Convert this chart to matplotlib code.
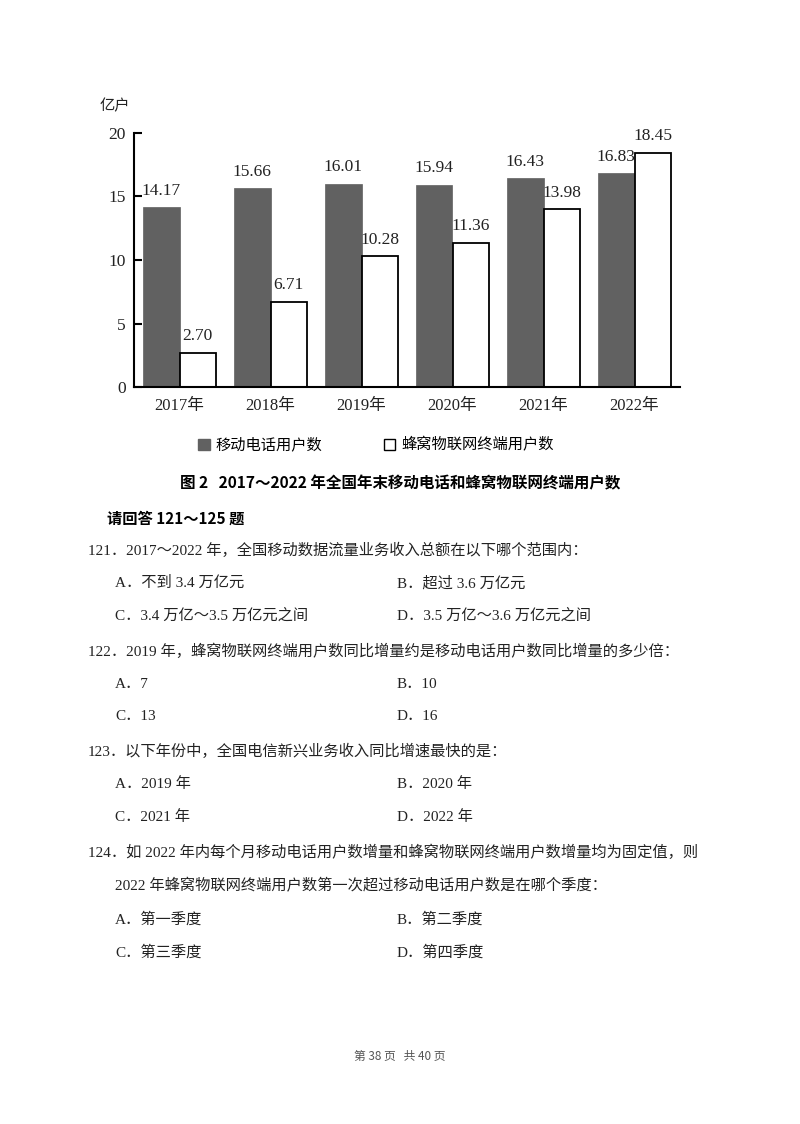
import numpy as np
import matplotlib
matplotlib.use('Agg')
import matplotlib.pyplot as plt
from matplotlib.patches import Patch

plt.rcParams['font.family'] = ['Liberation Serif', 'Noto Sans CJK SC', 'DejaVu Sans']

years = ['2017年', '2018年', '2019年', '2020年', '2021年', '2022年']
mobile = [14.17, 15.66, 16.01, 15.94, 16.43, 16.83]
iot = [2.70, 6.71, 10.28, 11.36, 13.98, 18.45]
yticks = [0, 5, 10, 15, 20]
legend_labels = ['移动电话用户数', '蜂窝物联网终端用户数']

title = '图 2   2017～2022 年全国年末移动电话和蜂窝物联网终端用户数'
sub = '请回答 121～125 题'
# (x px, y px, text)
lines = [
    (88, 550, '121．2017～2022 年，全国移动数据流量业务收入总额在以下哪个范围内：'),
    (115, 583, 'A．不到 3.4 万亿元'), (397, 583, 'B．超过 3.6 万亿元'),
    (115, 616, 'C．3.4 万亿～3.5 万亿元之间'), (397, 616, 'D．3.5 万亿～3.6 万亿元之间'),
    (88, 651, '122．2019 年，蜂窝物联网终端用户数同比增量约是移动电话用户数同比增量的多少倍：'),
    (115, 684, 'A．7'), (397, 684, 'B．10'),
    (115, 717, 'C．13'), (397, 717, 'D．16'),
    (88, 751, '123．以下年份中，全国电信新兴业务收入同比增速最快的是：'),
    (115, 784, 'A．2019 年'), (397, 784, 'B．2020 年'),
    (115, 817, 'C．2021 年'), (397, 817, 'D．2022 年'),
    (88, 852, '124．如 2022 年内每个月移动电话用户数增量和蜂窝物联网终端用户数增量均为固定值，则'),
    (115, 886, '2022 年蜂窝物联网终端用户数第一次超过移动电话用户数是在哪个季度：'),
    (115, 919, 'A．第一季度'), (397, 919, 'B．第二季度'),
    (115, 952, 'C．第三季度'), (397, 952, 'D．第四季度'),
]
footer = '第 38 页   共 40 页'

W, H = 800, 1124
fig = plt.figure(figsize=(W / 100, H / 100), dpi=100)
ax = fig.add_axes([134 / W, 1 - 387 / H, 546 / W, 254 / H])

x = np.arange(len(years))
w = 0.4
dark = '#616161'
ax.bar(x - w / 2, mobile, w, color=dark, edgecolor=dark, linewidth=0.5)
ax.bar(x + w / 2, iot, w, color='white', edgecolor='black', linewidth=1.3)

for xi, v in zip(x, mobile):
    ax.annotate('%.2f' % v, (xi - w / 2, v), xytext=(0, 6), textcoords='offset points',
                ha='center', va='bottom', fontsize=12.5, color='#222222')
for xi, v in zip(x, iot):
    ax.annotate('%.2f' % v, (xi + w / 2, v), xytext=(0, 6), textcoords='offset points',
                ha='center', va='bottom', fontsize=12.5, color='#222222')

ax.set_xlim(-0.5, 5.5)
ax.set_ylim(0, 20)
ax.set_yticks(yticks)
ax.set_xticks(x)
ax.set_xticklabels(years)
for s in ['top', 'right']:
    ax.spines[s].set_visible(False)
ax.spines['left'].set_linewidth(1.5)
ax.spines['bottom'].set_linewidth(1.5)
ax.tick_params(axis='y', direction='in', length=6, width=1.5, pad=6, labelsize=12.5, labelcolor='#222222')
ax.tick_params(axis='x', length=0, pad=8, labelsize=12, labelcolor='#222222')

fig.text(100 / W, 1 - 106 / H, '亿户', fontsize=11, ha='left', va='center',
         family=['Noto Sans CJK SC'], color='#222222')

handles = [Patch(facecolor=dark, edgecolor=dark), Patch(facecolor='white', edgecolor='black')]
fig.legend(handles, legend_labels, loc='center', bbox_to_anchor=(376 / W, 1 - 445 / H),
           ncol=2, frameon=False, handlelength=0.75, handleheight=0.75, handletextpad=0.4,
           columnspacing=4, prop={'family': 'Noto Sans CJK SC', 'size': 11})

fig.text(400 / W, 1 - 483 / H, title, fontsize=11.2, fontweight='bold', ha='center', va='center',
         family=['Noto Sans CJK SC'])
fig.text(107 / W, 1 - 519 / H, sub, fontsize=11, fontweight='bold', ha='left', va='center',
         family=['Noto Sans CJK SC'])
for px, py, t in lines:
    fig.text(px / W, 1 - py / H, t, fontsize=11, ha='left', va='center', color='#222222')

fig.text(400 / W, 1 - 1056 / H, footer, fontsize=8.5, ha='center', va='center',
         color='#555555', family=['Noto Sans CJK SC'])

fig.savefig('out.png', dpi=100, facecolor='white')
